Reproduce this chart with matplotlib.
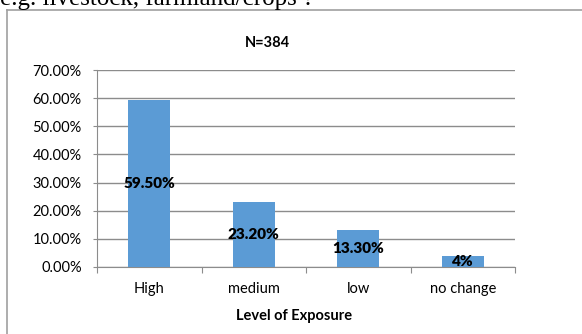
import matplotlib
matplotlib.use("Agg")
import matplotlib.pyplot as plt
from matplotlib.lines import Line2D
from matplotlib.ticker import MultipleLocator, FuncFormatter

categories = ["High", "medium", "low", "no change"]
values = [59.5, 23.2, 13.3, 4.0]
value_labels = ["59.50%", "23.20%", "13.30%", "4%"]

plt.rcParams['font.family'] = ['Lato', 'DejaVu Sans']

W, H = 582, 334
fig = plt.figure(figsize=(W / 100, H / 100), dpi=100)

# heading from the page above the chart, cut off at the top edge
fig.text(0 / W, 1 - 5 / H, "e.g. livestock, farmland/crops ?",
         family=['Liberation Serif'], fontsize=18, va='baseline', ha='left')

# chart frame (only top and left edges show)
frame_col = '#a0a0a0'
fig.add_artist(Line2D([7 / W, 1], [1 - 10 / H, 1 - 10 / H],
                      transform=fig.transFigure, color=frame_col, lw=1.2))
fig.add_artist(Line2D([7 / W, 7 / W], [0, 1 - 10 / H],
                      transform=fig.transFigure, color=frame_col, lw=1.2))

ax = fig.add_axes([97 / W, 1 - 267 / H, (515 - 97) / W, (267 - 70) / H])

x = range(len(categories))
bars = ax.bar(x, values, width=0.4, color='#5b9bd5', zorder=3)

for b, lab in zip(bars, value_labels):
    ax.text(b.get_x() + b.get_width() / 2, b.get_height() / 2, lab,
            ha='center', va='center', fontsize=11, fontweight='heavy', zorder=4)

ax.set_xlim(-0.5, len(categories) - 0.5)
ax.set_ylim(0, 70)
ax.yaxis.set_major_locator(MultipleLocator(10))
ax.yaxis.set_major_formatter(FuncFormatter(lambda v, p: f"{v:.2f}%"))
ax.grid(axis='y', color='#8c8c8c', lw=1.0, zorder=0)

ax.set_xticks([i - 0.5 for i in range(len(categories) + 1)], minor=False)
ax.set_xticklabels([])
ax.set_xticks(list(x), minor=True)
ax.set_xticklabels(categories, minor=True)
ax.tick_params(axis='x', which='major', length=4, color='#8c8c8c', direction='out')
ax.tick_params(axis='x', which='minor', length=0, pad=11, labelsize=10.5)
ax.tick_params(axis='y', length=3, color='#8c8c8c', labelsize=10.5, pad=8)

for s in ['top', 'right']:
    ax.spines[s].set_visible(False)
for s in ['left', 'bottom']:
    ax.spines[s].set_color('#8c8c8c')

fig.text(294 / W, 1 - 316 / H, "Level of Exposure", ha='center', va='center',
         fontsize=10.5, fontweight='bold')
fig.text(267 / W, 1 - 43 / H, "N=384", ha='center', va='center',
         fontsize=10.5, fontweight='bold')

fig.savefig("out.png", dpi=100)
